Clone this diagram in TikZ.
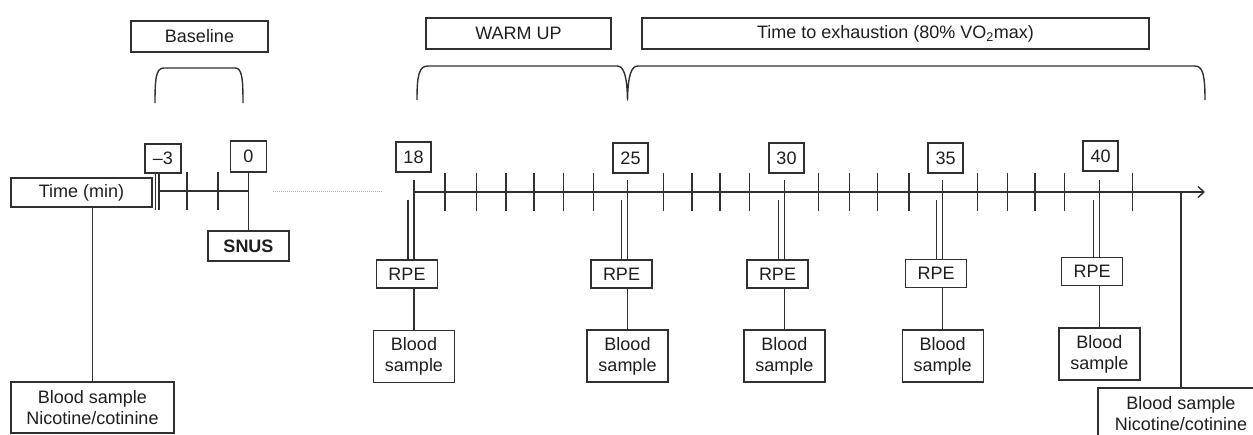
\documentclass[tikz,border=0pt]{standalone}
\usepackage{fontspec}
\setmainfont{Liberation Sans}
\usetikzlibrary{arrows.meta}
\definecolor{ink}{HTML}{303030}
\definecolor{txt}{HTML}{1E1E1E}
\begin{document}
\begin{tikzpicture}[x=1pt,y=-1pt,
  box/.style={draw=ink, line width=1.4pt, inner sep=0pt, align=center, text=txt,
    font=\fontsize{18}{21}\selectfont},
  ln/.style={draw=ink, line width=1.4pt},
  tickln/.style={draw=ink, line width=1.4pt},
  brace/.style={draw=ink, line width=1.4pt, line join=round},
  dots/.style={draw=gray!60, line width=1pt, dash pattern=on 1pt off 1pt}
]
\useasboundingbox (0,0) rectangle (1253,434);
\clip (0,0) rectangle (1253,434);

% header boxes
\node[box, minimum width=137pt, minimum height=31pt] (base) at (199.5,36.5) {Baseline};
\node[box, minimum width=185pt, minimum height=31pt] (warm) at (518.5,33.5) {WARM UP};
\node[box, minimum width=507pt, minimum height=31pt] (tte) at (895.5,33.5) {Time to exhaustion (80\% VO\textsubscript{2}max)};

% brackets
\draw[brace] (155,103) .. controls (155,78) and (156,68) .. (164,68) -- (235,68)
  .. controls (242,68) and (243,78) .. (243,103);
\draw[brace] (417,100) .. controls (417,75) and (419,66) .. (428,66) -- (617,66)
  .. controls (624,66) and (627,76) .. (627.5,100)
  .. controls (628,76) and (631,66) .. (638,66) -- (1195,66)
  .. controls (1203,66) and (1205,76) .. (1205,100);

% left part
\node[box, minimum width=36pt, minimum height=29pt] (nm3) at (163,158.5) {–3};
\node[box, minimum width=36pt, minimum height=31pt] (n0) at (248.5,156.5) {0};
\node[box, minimum width=141pt, minimum height=29pt] (time) at (81.5,192.5) {Time (min)};
\node[box, minimum width=81pt, minimum height=30pt] (snus) at (248.5,246) {\textbf{SNUS}};
\node[box, minimum width=163pt, minimum height=51pt] (bsL) at (92.5,407.5) {Blood sample\\Nicotine/cotinine};

\coordinate (la) at (159,191);
\coordinate (lb) at (248.5,191);
\draw[ln] (la) -- (lb);
\draw[tickln] (155.5,173) -- (155.5,210);
\draw[tickln] (159,173) -- (159,210);
\foreach \x in {187,218} \draw[tickln] (\x,172) -- (\x,210);
\draw[ln] (n0.south) -- (snus.north);
\draw[ln] (bsL.north |- time.south) -- (bsL.north);
\draw[dots] (273,191) -- (383,191);

% main axis
\coordinate (ax0) at (414,192);
\coordinate (ax1) at (1205,192);
\draw[ln, -{Straight Barb[length=6pt,width=11pt,line width=1.4pt]}] (ax0) -- (ax1);
\foreach \x in {445,476.7,506,534,563.3,593.7,663.3,692,720,749.3,818.3,849.3,877.3,909,977.7,1007.3,1035,1064.3,1132.7}
  \draw[tickln] (\x,173) -- (\x,211);

% measurement points
\foreach \n/\t/\b/\by/\r/\ry/\s in {18/414/413.5/157/407/274/356.5,
    25/627.5/630.5/158/621.5/274/356,
    30/784.3/786.5/158/777.5/274/356,
    35/942.7/945.5/158/936/273.5/356,
    40/1099.3/1100.5/156/1092/271.5/354}{
  \node[box, minimum width=35pt, minimum height=30pt] (n\n) at (\b,\by) {\n};
  \node[box, minimum width=61pt, minimum height=28pt] (r\n) at (\r,\ry) {RPE};
  \node[box, minimum width=81pt, minimum height=52pt] (s\n) at (\t,\s) {Blood\\sample};
  \coordinate (u\n) at (\t,180);
  \coordinate (d\n) at (\t-6,200);
  \draw[ln] (u\n) -- (u\n |- r\n.north);
  \draw[ln] (d\n) -- (d\n |- r\n.north);
  \draw[ln] (r\n.south -| s\n.north) -- (s\n.north);
}

% final blood sample
\node[box, minimum width=166pt, minimum height=51pt] (bsR) at (1181,413.5) {Blood sample\\Nicotine/cotinine};
\draw[ln] (bsR.north) -- (bsR.north |- ax1);
\end{tikzpicture}
\end{document}
